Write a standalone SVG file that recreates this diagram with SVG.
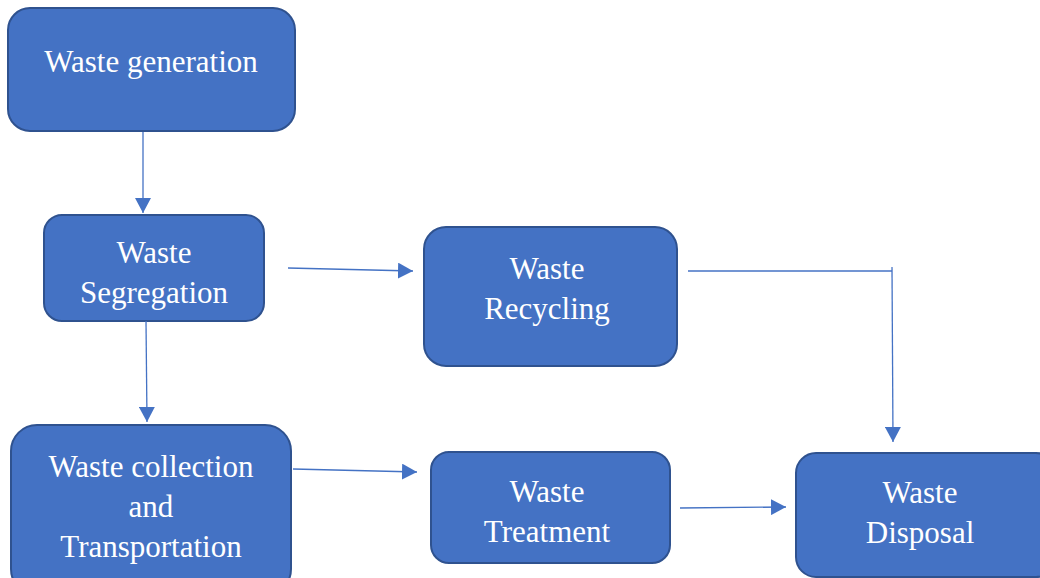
<svg xmlns="http://www.w3.org/2000/svg" width="1040" height="578" viewBox="0 0 1040 578">
<style>
.box{fill:#4472C4;stroke:#2F528F;stroke-width:2}
.lbl{font-family:"Liberation Serif",serif;font-size:31px;fill:#FFFFFF;text-anchor:middle}
.conn{fill:none;stroke:#4472C4;stroke-width:1.3}
</style>
<defs>
<marker id="arr" markerUnits="userSpaceOnUse" markerWidth="16" markerHeight="16" refX="15" refY="8" orient="auto">
<path d="M0,0 L15,8 L0,16 Z" fill="#4472C4"/>
</marker>
</defs>
<rect width="1040" height="578" fill="#FFFFFF"/>
<g id="n1"><rect class="box" x="8" y="8" width="287" height="123" rx="22"/><text class="lbl" x="151" y="72" font-family="Liberation Serif">Waste generation</text></g>
<g id="n2"><rect class="box" x="44" y="215" width="220" height="106" rx="18"/><text class="lbl" x="154" y="263" font-family="Liberation Serif">Waste</text><text class="lbl" x="154" y="303" font-family="Liberation Serif">Segregation</text></g>
<g id="n3"><rect class="box" x="424" y="227" width="253" height="139" rx="22"/><text class="lbl" x="547" y="279" font-family="Liberation Serif">Waste</text><text class="lbl" x="547" y="319" font-family="Liberation Serif">Recycling</text></g>
<g id="n4"><rect class="box" x="11" y="425" width="280" height="170" rx="26"/><text class="lbl" x="151" y="477" font-family="Liberation Serif">Waste collection</text><text class="lbl" x="151" y="517" font-family="Liberation Serif">and</text><text class="lbl" x="151" y="557" font-family="Liberation Serif">Transportation</text></g>
<g id="n5"><rect class="box" x="431" y="452" width="239" height="111" rx="18"/><text class="lbl" x="547" y="502" font-family="Liberation Serif">Waste</text><text class="lbl" x="547" y="542" font-family="Liberation Serif">Treatment</text></g>
<g id="n6"><rect class="box" x="796" y="453" width="260" height="124" rx="20"/><text class="lbl" x="920" y="503" font-family="Liberation Serif">Waste</text><text class="lbl" x="920" y="543" font-family="Liberation Serif">Disposal</text></g>
<g id="connectors">
<path class="conn" d="M143,132 L143,213" marker-end="url(#arr)"/>
<path class="conn" d="M146,321 L147,422" marker-end="url(#arr)"/>
<path class="conn" d="M288,268 L413,271" marker-end="url(#arr)"/>
<path class="conn" d="M688,271 L892,271"/>
<path class="conn" d="M892,267 L893,442" marker-end="url(#arr)"/>
<path class="conn" d="M293,469 L417,472" marker-end="url(#arr)"/>
<path class="conn" d="M680,508 L786,507" marker-end="url(#arr)"/>
</g>
</svg>
